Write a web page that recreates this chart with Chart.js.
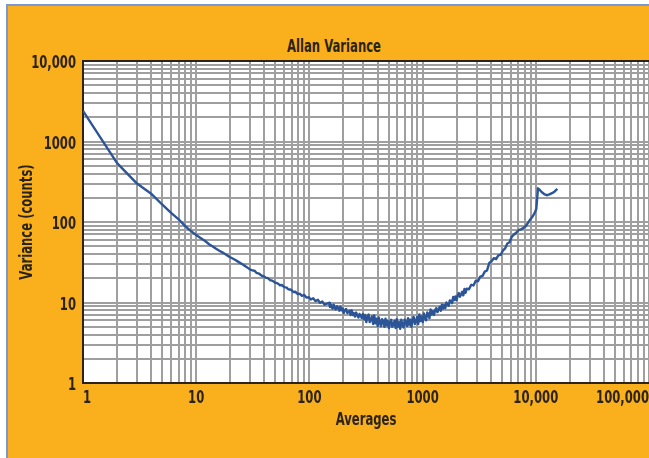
<!DOCTYPE html>
<html>
<head>
<meta charset="utf-8">
<script src="https://cdn.jsdelivr.net/npm/chart.js@4.4.1/dist/chart.umd.min.js"></script>
<style>
  html, body { margin: 0; padding: 0; background: #ffffff; overflow: hidden; }
  #frame {
    position: absolute; left: 6px; top: 4px; width: 700px; height: 470px;
    background: #f9b01c; border-left: 2px solid #7b98d2; border-top: 2px solid #7b98d2;
  }
  #title {
    position: absolute; left: 0; top: 36px; width: 668px; text-align: center;
    font: bold 17px "Liberation Sans Narrow", "DejaVu Sans Condensed", sans-serif;
    color: #2b2318; transform: scaleX(0.76);
  }
  #chart { position: absolute; left: 0; top: 0; }
</style>
</head>
<body>
<div id="frame"></div>
<div id="title">Allan Variance</div>
<canvas id="chart" width="654" height="458"></canvas>
<script>
const FONT = '"Liberation Sans Narrow", "DejaVu Sans Condensed", sans-serif';
const INK = "#2b2318";
const GRID = "#9f9f9f";
const SQUEEZE = 0.76; // the original uses a condensed face

// log decades and their printed labels
const xTickValues = [1, 10, 100, 1000, 10000, 100000];
const xTickLabels = ["1", "10", "100", "1000", "10,000", "100,000"];
const yTickValues = [1, 10, 100, 1000, 10000];
const yTickLabels = ["1", "10", "100", "1000", "10,000"];
const minorSteps = [1, 2, 3, 4, 5, 6, 7, 8, 9];

const averages = [
  1, 2, 3, 4, 5, 6, 7, 8, 9, 10, 11, 12, 13, 14, 15, 16, 17, 18, 19, 20, 22, 24, 26, 28,
  30, 31, 33, 34, 36, 38, 40, 41, 43, 45, 47, 50, 52, 55, 57, 60, 63, 65, 69, 72, 75, 79, 82, 86, 90, 94, 99,
  103, 108, 113, 119, 124, 130, 136, 143,
  149, 152, 156, 160, 164, 167, 171, 175, 179, 184, 188, 192, 197, 201, 206, 211, 216, 221, 226, 231,
  236, 242, 247, 253, 259, 265, 271, 277, 284, 290, 297, 304, 311, 318, 326, 333, 341, 349, 357, 366,
  374, 383, 391, 401, 410, 420, 429, 439, 449, 460, 470, 481, 492, 504, 515, 527, 539, 552, 565, 578,
  591, 605, 619, 634, 648, 663, 679, 695, 711, 727, 744, 761, 779, 797, 815, 834, 854, 874, 894, 915,
  936, 958, 980, 1003, 1026, 1050, 1074, 1099, 1124, 1150, 1177, 1205, 1233, 1261, 1290, 1320, 1351, 1382, 1414, 1447,
  1481, 1515, 1550, 1586, 1623, 1661, 1699, 1739, 1779, 1821, 1863, 1906, 1950, 1996, 2042, 2089, 2138, 2188, 2238, 2290,
  2343, 2398, 2453, 2569, 2690, 2816, 2948,
  3087, 3232, 3384, 3543, 3709, 3884, 4066, 4257, 4457, 4667, 4886, 5116, 5356, 5608, 5871, 6147, 6436, 6739, 7055, 7387,
  7734, 8098, 8478, 8877, 9294, 9731,
  10100, 10450, 10900, 11400, 12000, 12600, 13200, 13900, 14700, 15500
];
const variance = [
  2400, 540, 300, 225, 165, 130, 108, 89, 77, 69, 63, 58, 53, 49.5, 46.5, 44, 42, 40, 38, 36.5, 34, 31.5, 29.5, 27.5,
  25.6, 25.2, 24.6, 23.4, 22.8, 21.5, 21.0, 20.4, 20.1, 18.9, 18.7, 17.6, 17.4, 16.4, 16.5, 15.5, 15.3, 14.6, 14.4, 13.5, 13.6, 12.7, 12.9, 12.1, 12.4, 11.5, 11.6,
  10.9, 11.3, 10.4, 10.8, 9.9, 10.3, 9.4, 9.7,
  9.9, 8.8, 9.3, 8.4, 9.4, 8.6, 8.2, 9.0, 8.6, 7.9, 8.9, 8.0, 8.4, 7.4, 8.1, 8.3, 7.4, 7.6, 7.9, 7.0,
  8.0, 7.0, 7.4, 6.7, 7.5, 6.9, 6.5, 7.2, 6.9, 6.4, 7.2, 6.2, 7.0, 5.7, 6.7, 7.1, 5.7, 6.1, 6.7, 5.4,
  6.9, 5.5, 6.3, 5.1, 6.5, 5.6, 5.1, 6.2, 5.8, 5.0, 6.3, 5.2, 5.9, 4.8, 5.7, 6.1, 5.0, 5.4, 5.9, 4.8,
  6.2, 5.0, 5.7, 4.7, 6.1, 5.3, 4.9, 6.1, 5.7, 5.1, 6.4, 5.3, 6.1, 5.0, 6.1, 6.6, 5.4, 5.8, 6.6, 5.4,
  7.1, 5.9, 6.7, 5.7, 7.3, 6.4, 6.0, 7.5, 7.2, 6.4, 8.2, 7.1, 7.8, 7.0, 8.0, 8.5, 7.6, 8.1, 8.8, 7.9,
  9.4, 8.4, 9.3, 8.5, 10.0, 9.4, 9.1, 10.6, 10.5, 9.8, 11.7, 10.7, 11.9, 10.7, 12.2, 13.1, 11.8, 12.6, 13.6, 12.3,
  14.7, 13.2, 14.8, 14.6, 16.6, 16.3, 18.6,
  18.4, 21.0, 21.4, 24.2, 25.0, 31.0, 32.5, 35.5, 34.5, 38.5, 39.0, 44, 47, 54, 56, 66, 70, 74, 79, 81,
  84, 88, 96, 106, 115, 128,
  145, 262, 248, 232, 220, 215, 220, 228, 240, 258
];

function logTicks(decades) {
  const ticks = [];
  decades.forEach((d, i) => {
    if (i === decades.length - 1) { ticks.push({ value: d }); return; }
    minorSteps.forEach(m => ticks.push({ value: d * m }));
  });
  return ticks;
}

function decadeLabel(values, labels) {
  return function (value) {
    const i = values.indexOf(value);
    return i >= 0 ? labels[i] : "";
  };
}

const plotBackground = {
  id: "plotBackground",
  beforeDraw(chart) {
    const { ctx, chartArea: a } = chart;
    ctx.save();
    ctx.fillStyle = "#ffffff";
    ctx.fillRect(a.left, a.top, a.right - a.left, a.bottom - a.top);
    ctx.restore();
  }
};

// squeeze canvas text horizontally around its anchor point
const narrowText = {
  id: "narrowText",
  beforeInit(chart) {
    const ctx = chart.ctx;
    const fillText = ctx.fillText;
    ctx.fillText = function (text, x, y) {
      this.save();
      this.translate(x, y);
      this.scale(SQUEEZE, 1);
      fillText.call(this, text, 0, 0);
      this.restore();
    };
  }
};

const tickFont = { family: FONT, size: 17, weight: "bold" };

new Chart(document.getElementById("chart"), {
  type: "line",
  data: {
    datasets: [{
      data: averages.map((a, i) => ({ x: a, y: variance[i] })),
      borderColor: "#2c5597",
      borderWidth: 2.4,
      borderJoinStyle: "round",
      pointRadius: 0,
      tension: 0,
      fill: false
    }]
  },
  options: {
    responsive: false,
    animation: false,
    layout: { padding: { top: 61, left: 0, right: 0, bottom: 0 } },
    plugins: { legend: { display: false }, tooltip: { enabled: false } },
    scales: {
      x: {
        type: "logarithmic",
        min: 1,
        max: 100000,
        afterBuildTicks: s => { s.ticks = logTicks(xTickValues); },
        afterFit: s => { s.height = 75; },
        ticks: {
          autoSkip: false,
          maxRotation: 0,
          align: "inner",
          padding: 5,
          color: INK,
          font: tickFont,
          callback: decadeLabel(xTickValues, xTickLabels)
        },
        grid: { color: GRID, lineWidth: 2, drawTicks: false },
        border: { color: INK, width: 2 },
        title: {
          display: true,
          text: "Averages",
          color: INK,
          font: tickFont,
          padding: { top: 0, bottom: 27 }
        }
      },
      y: {
        type: "logarithmic",
        min: 1,
        max: 10000,
        afterBuildTicks: s => { s.ticks = logTicks(yTickValues); },
        afterFit: s => { s.width = 83; },
        ticks: {
          autoSkip: false,
          padding: 7,
          labelOffset: 3,
          color: INK,
          font: tickFont,
          callback: decadeLabel(yTickValues, yTickLabels)
        },
        grid: {
          color: c => (c.tick && c.tick.value === 10000 ? INK : GRID),
          lineWidth: 2,
          drawTicks: false
        },
        border: { color: INK, width: 2 },
        title: {
          display: true,
          text: "Variance (counts)",
          color: INK,
          font: tickFont,
          padding: { top: 17, bottom: 0 }
        }
      }
    }
  },
  plugins: [plotBackground, narrowText]
});
</script>
</body>
</html>
